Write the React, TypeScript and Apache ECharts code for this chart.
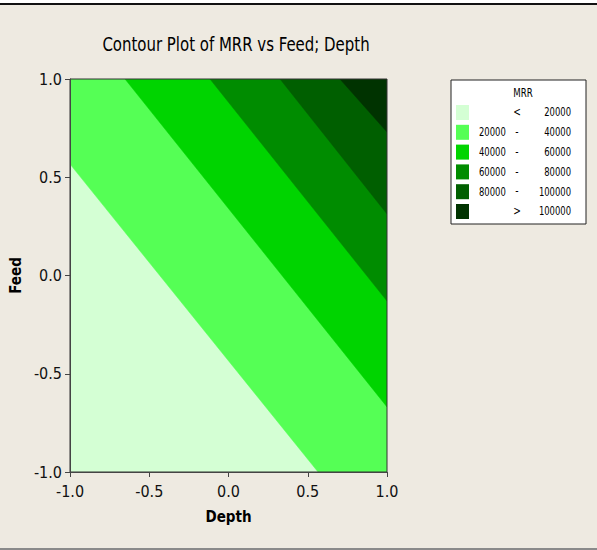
import React, { useEffect, useRef } from "react";
import * as echarts from "echarts";

// MRR contour levels and the fill colour of each band (lowest band first)
const levels = [20000, 40000, 60000, 80000, 100000];
const bandColors = ["#D4FFD4", "#55FF55", "#00D400", "#008C00", "#005F00", "#003300"];

// Contour lines [Depth, Feed], each running from the left/top edge to the bottom/right edge
const contour20000: [number, number][] = [[-1.0, 0.567], [0.565, -1.0]];
const contour40000: [number, number][] = [[-0.653, 1.0], [1.0, -0.669]];
const contour60000: [number, number][] = [[-0.117, 1.0], [1.0, -0.13]];
const contour80000: [number, number][] = [[0.325, 1.0], [1.0, 0.313]];
const contour100000: [number, number][] = [[0.703, 1.0], [1.0, 0.73]];
const contourLines = [contour20000, contour40000, contour60000, contour80000, contour100000];

const axisMin = -1.0;
const axisMax = 1.0;
const tickStep = 0.5;

const condensed = "'DejaVu Sans Condensed', 'DejaVu Sans', sans-serif";

// Region of the square lying on the high side of a contour line
function highSide(line: [number, number][]): [number, number][] {
  const pts = line.slice();
  const start = line[0];
  const end = line[line.length - 1];
  if (end[1] <= axisMin) pts.push([axisMax, axisMin]);
  pts.push([axisMax, axisMax]);
  if (start[0] <= axisMin && start[1] < axisMax) pts.push([axisMin, axisMax]);
  return pts;
}

const fullSquare: [number, number][] = [
  [axisMin, axisMin],
  [axisMax, axisMin],
  [axisMax, axisMax],
  [axisMin, axisMax],
];

function legendRows() {
  const rows: { color: string; low: string; mid: string; high: string }[] = [];
  rows.push({ color: bandColors[0], low: "", mid: "<", high: String(levels[0]) });
  for (let i = 0; i < levels.length - 1; i++) {
    rows.push({ color: bandColors[i + 1], low: String(levels[i]), mid: "-", high: String(levels[i + 1]) });
  }
  rows.push({ color: bandColors[levels.length], low: "", mid: ">", high: String(levels[levels.length - 1]) });
  return rows;
}

function label(text: string, x: number, y: number, size: number, align: string, scaleX: number) {
  return {
    type: "text",
    x,
    y,
    scaleX,
    style: {
      text,
      fill: "#000",
      font: `${size}px ${condensed}`,
      align,
      verticalAlign: "middle",
      textAlign: align,
      textVerticalAlign: "middle",
    },
  };
}

export default function App() {
  const ref = useRef<HTMLDivElement>(null);

  useEffect(() => {
    document.body.style.margin = "0";
    if (!ref.current) return;
    const chart = echarts.init(ref.current, undefined, { renderer: "svg" });

    const polygons = [fullSquare, ...contourLines.map(highSide)];

    const legendChildren: any[] = [
      {
        type: "rect",
        shape: { x: 0, y: 0, width: 135, height: 144 },
        style: { fill: "#FFFFFF", stroke: "#222222", lineWidth: 1 },
      },
      label("MRR", 72, 13, 12, "center", 0.8),
    ];
    legendRows().forEach((r, i) => {
      const cy = 32.5 + i * 19.8;
      legendChildren.push({
        type: "rect",
        shape: { x: 5, y: cy - 7.5, width: 13, height: 15 },
        style: { fill: r.color },
      });
      if (r.low) legendChildren.push(label(r.low, 28, cy, 12, "left", 0.78));
      legendChildren.push(label(r.mid, 66, cy, 12, "center", 0.85));
      legendChildren.push(label(r.high, 120, cy, 12, "right", 0.78));
    });

    const axisCommon = {
      type: "value",
      min: axisMin,
      max: axisMax,
      interval: tickStep,
      nameLocation: "middle",
      nameTextStyle: { fontFamily: condensed, fontWeight: "bold", fontSize: 15, color: "#000" },
      axisLine: { show: true, onZero: false, lineStyle: { color: "#444", width: 1 } },
      axisTick: { show: true, length: 5, lineStyle: { color: "#444" } },
      splitLine: { show: false },
      z: 10,
    };

    chart.setOption({
      animation: false,
      backgroundColor: "#EEEAE1",
      grid: {
        left: 70,
        top: 79,
        width: 317,
        height: 393,
        show: true,
        borderColor: "#333333",
        borderWidth: 1,
        z: 10,
      },
      xAxis: {
        ...axisCommon,
        name: "Depth",
        nameGap: 37,
        axisLabel: {
          fontFamily: condensed,
          fontSize: 16,
          color: "#111",
          margin: 11,
          formatter: (v: number) => v.toFixed(1),
        },
      },
      yAxis: {
        ...axisCommon,
        name: "Feed",
        nameGap: 47,
        nameRotate: 90,
        axisLabel: {
          fontFamily: condensed,
          fontSize: 16,
          color: "#111",
          margin: 8,
          formatter: (v: number) => v.toFixed(1),
        },
      },
      series: [
        {
          type: "custom",
          data: polygons.map((_, i) => [0, 0, i]),
          clip: true,
          renderItem: (params: any, api: any) => {
            const i = params.dataIndex;
            const pts = polygons[i].map((p) => api.coord(p));
            return {
              type: "polygon",
              shape: { points: pts },
              style: { fill: bandColors[i], stroke: bandColors[i], lineWidth: 0.5 },
            };
          },
          z: 1,
        },
      ],
      graphic: [
        {
          type: "rect",
          shape: { x: 0, y: 0, width: 597, height: 3 },
          style: { fill: "#FFFFFF" },
        },
        {
          type: "rect",
          shape: { x: 0, y: 3, width: 597, height: 2 },
          style: { fill: "#111111" },
        },
        {
          type: "rect",
          shape: { x: 0, y: 548, width: 597, height: 2 },
          style: { fill: "#8A8A8A" },
        },
        label("Contour Plot of MRR vs Feed; Depth", 236, 44, 19, "center", 0.875),
        {
          type: "group",
          x: 451,
          y: 80,
          children: legendChildren,
        },
      ],
    });

    return () => chart.dispose();
  }, []);

  return <div ref={ref} style={{ width: 597, height: 550 }} />;
}
